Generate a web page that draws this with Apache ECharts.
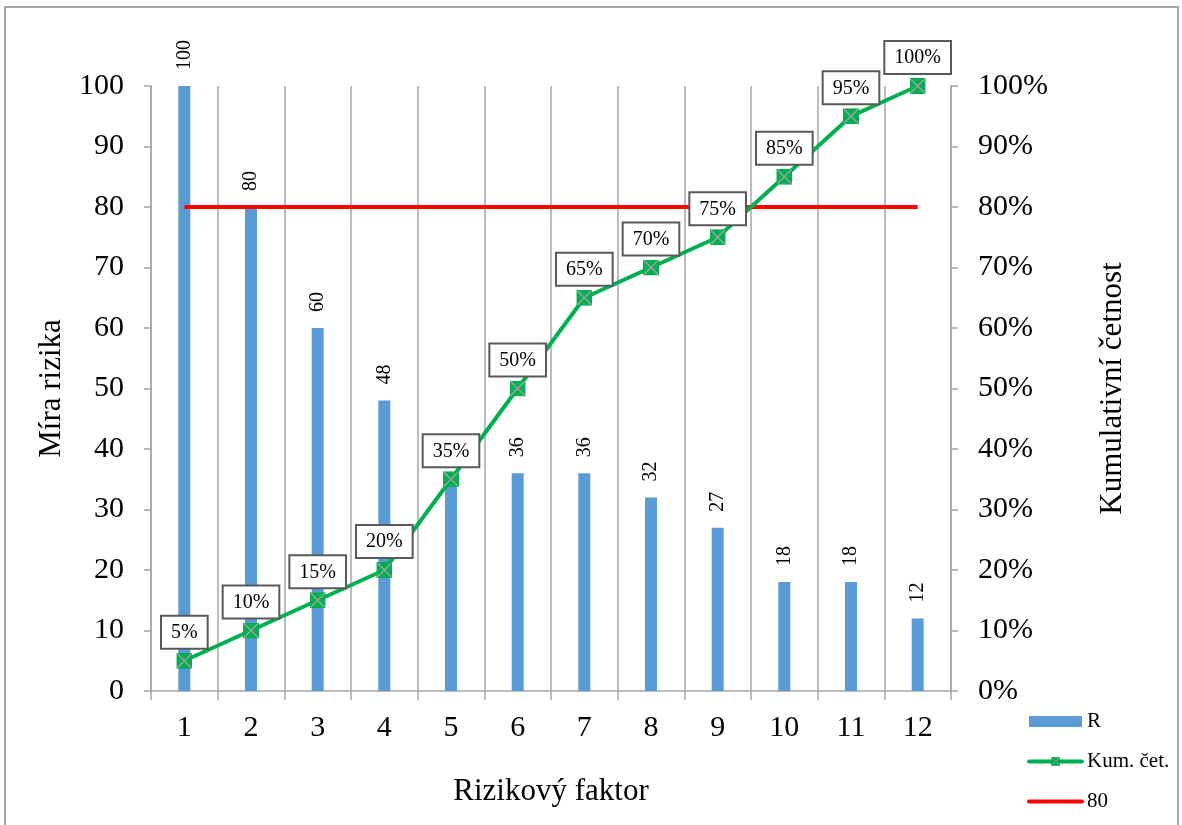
<!DOCTYPE html>
<html>
<head>
<meta charset="utf-8">
<script src="https://cdn.jsdelivr.net/npm/echarts@6/dist/echarts.min.js"></script>
<style>
  html, body { margin: 0; padding: 0; background: #fff; }
  #chart { width: 1182px; height: 825px; }
</style>
</head>
<body>
<div id="chart"></div>
<script>
// Pareto chart of risk factors
const factors = ['1', '2', '3', '4', '5', '6', '7', '8', '9', '10', '11', '12'];
const riskValues = [100, 80, 60, 48, 36, 36, 36, 32, 27, 18, 18, 12];
const cumulativePct = [5, 10, 15, 20, 35, 50, 65, 70, 75, 85, 95, 100];
const thresholdValues = [80, 80, 80, 80, 80, 80, 80, 80, 80, 80, 80, 80];
const leftTicks = { min: 0, max: 100, interval: 10 };
const rightTicks = { min: 0, max: 100, interval: 10 };

const serif = '"Liberation Serif", "Times New Roman", serif';
const gridGray = '#a6a6a6';

// green square marker with a grey cross
const markerSvg =
  '<svg xmlns="http://www.w3.org/2000/svg" width="16" height="16" viewBox="0 0 16 16">' +
  '<rect x="0" y="0" width="16" height="16" fill="#00b050"/>' +
  '<path d="M1 1 L15 15 M15 1 L1 15" stroke="#a0a0a0" stroke-width="1.5"/></svg>';
const markerSymbol = 'image://data:image/svg+xml;charset=utf-8,' + encodeURIComponent(markerSvg);

const chart = echarts.init(document.getElementById('chart'), null, { renderer: 'canvas' });

chart.setOption({
  backgroundColor: '#fff',
  animation: false,
  textStyle: { fontFamily: serif, color: '#000' },
  graphic: [{
    type: 'rect',
    shape: { x: 5, y: 7, width: 1173, height: 830 },
    style: { fill: 'none', stroke: '#a6a6a6', lineWidth: 2 },
    silent: true,
    z: -10
  }],
  grid: { left: 151, right: 231, top: 86, bottom: 134 },
  legend: {
    orient: 'vertical',
    left: 1022,
    top: 706,
    itemWidth: 53,
    itemHeight: 11,
    itemGap: 19,
    textStyle: { fontFamily: serif, fontSize: 21, color: '#000' },
    data: [
      { name: 'R', icon: 'rect' },
      { name: 'Kum. čet.', lineStyle: { width: 4, cap: 'round' } },
      { name: '80', itemStyle: { opacity: 0 }, lineStyle: { width: 4, cap: 'round' } }
    ]
  },
  xAxis: {
    type: 'category',
    data: factors,
    boundaryGap: true,
    name: 'Rizikový faktor',
    nameLocation: 'middle',
    nameGap: 85,
    nameTextStyle: { fontFamily: serif, fontSize: 31, color: '#000' },
    axisLine: { lineStyle: { color: gridGray, width: 1.5 } },
    axisTick: { show: true, length: 9, lineStyle: { color: gridGray, width: 1.5 } },
    axisLabel: { fontFamily: serif, fontSize: 30, color: '#000', margin: 22 },
    splitLine: { show: true, lineStyle: { color: gridGray, width: 1.5 } }
  },
  yAxis: [{
    type: 'value',
    min: leftTicks.min,
    max: leftTicks.max,
    interval: leftTicks.interval,
    name: 'Míra rizika',
    nameLocation: 'middle',
    nameGap: 84,
    nameRotate: 90,
    nameTextStyle: { fontFamily: serif, fontSize: 31, color: '#000' },
    axisLine: { show: true, lineStyle: { color: gridGray, width: 1.5 } },
    axisTick: { show: true, length: 7, lineStyle: { color: gridGray, width: 1.5 } },
    axisLabel: { fontFamily: serif, fontSize: 30, color: '#000', margin: 27 },
    splitLine: { show: false }
  }, {
    type: 'value',
    position: 'right',
    min: rightTicks.min,
    max: rightTicks.max,
    interval: rightTicks.interval,
    name: 'Kumulativní četnost',
    nameLocation: 'middle',
    nameGap: 146,
    nameRotate: 90,
    nameTextStyle: { fontFamily: serif, fontSize: 31, color: '#000' },
    axisLine: { show: true, lineStyle: { color: gridGray, width: 1.5 } },
    axisTick: { show: true, length: 7, lineStyle: { color: gridGray, width: 1.5 } },
    axisLabel: { fontFamily: serif, fontSize: 30, color: '#000', margin: 27, formatter: '{value}%' },
    splitLine: { show: false }
  }],
  series: [{
    name: 'R',
    type: 'bar',
    yAxisIndex: 0,
    data: riskValues,
    barWidth: 12,
    itemStyle: { color: '#5b9bd5' },
    z: 2,
    label: {
      show: true,
      position: 'top',
      rotate: 90,
      align: 'left',
      verticalAlign: 'middle',
      distance: 16,
      fontFamily: serif,
      fontSize: 20,
      color: '#000'
    }
  }, {
    name: '80',
    type: 'line',
    yAxisIndex: 0,
    data: thresholdValues,
    symbol: 'none',
    lineStyle: { color: '#ff0000', width: 4 },
    itemStyle: { color: '#ff0000' },
    z: 3
  }, {
    name: 'Kum. čet.',
    type: 'line',
    yAxisIndex: 1,
    data: cumulativePct,
    symbol: markerSymbol,
    symbolSize: 16,
    lineStyle: { color: '#00b050', width: 4 },
    itemStyle: { color: '#00b050' },
    z: 4,
    label: {
      show: true,
      position: 'top',
      distance: 5,
      formatter: '{c}%',
      fontFamily: serif,
      fontSize: 20,
      color: '#000',
      backgroundColor: '#fff',
      borderColor: '#595959',
      borderWidth: 2,
      padding: [6, 9, 5, 9]
    }
  }]
});
</script>
</body>
</html>
